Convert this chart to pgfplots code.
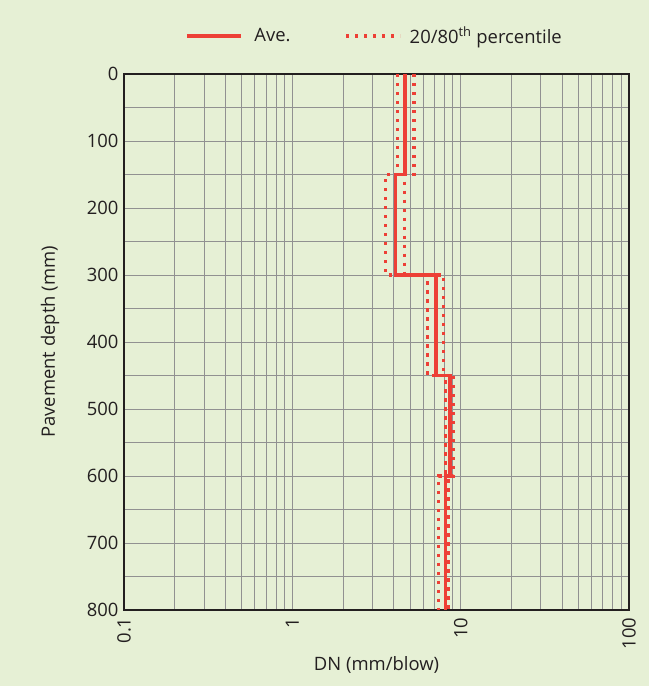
\documentclass[border=0pt]{standalone}
\usepackage{fontspec}
\setmainfont{Open Sans}
\usepackage{pgfplots}
\pgfplotsset{compat=1.18}
\definecolor{bg}{RGB}{230,240,213}
\definecolor{redl}{RGB}{237,64,54}
\definecolor{gridc}{RGB}{145,145,145}
\definecolor{axc}{RGB}{35,31,32}
\definecolor{txt}{RGB}{35,31,32}
\begin{document}
\begin{tikzpicture}[x=1bp,y=1bp]
\fill[bg] (0,0) rectangle (649,686);
\useasboundingbox (0,0) rectangle (649,686);
\begin{axis}[
  at={(124bp,76bp)}, anchor=south west,
  scale only axis, width=505bp, height=536bp,
  xmode=log, xmin=0.1, xmax=100,
  ymin=0, ymax=800, y dir=reverse,
  xtick={0.1,1,10,100}, xticklabels={0.1,1,10,100},
  ytick={0,100,...,800}, minor ytick={50,150,...,750},
  /pgf/number format/assume math mode=true,
  grid=both,
  major grid style={gridc, line width=1bp},
  minor grid style={gridc, line width=1bp},
  major tick length=0pt, minor tick length=0pt,
  axis line style={axc, line width=2.6bp},
  font=\fontsize{18.5}{22}\selectfont\color{txt},
  xticklabel style={rotate=90, anchor=east, xshift=-4bp, font=\fontsize{18.5}{22}\selectfont\color{txt}},
  yticklabel style={font=\fontsize{18.5}{22}\selectfont\color{txt}, xshift=-2bp},
  xlabel={DN (mm/blow)}, ylabel={Pavement depth (mm)},
  xlabel style={at={(axis description cs:0.5,0)}, anchor=center, yshift=-55bp},
  ylabel style={at={(axis description cs:0,0.5)}, anchor=center, yshift=74bp},
  legend columns=2,
  legend style={draw=none, fill=none, at={(0.496,1.071)}, anchor=center,
    font=\fontsize{18.5}{22}\selectfont\color{txt},
    /tikz/every even column/.append style={column sep=52bp}},
  legend image code/.code={\draw[#1] (0bp,0bp) -- (54bp,0bp);},
  clip=false,
]
\addplot[redl, line width=3.2bp] coordinates {
 (4.67,0) (4.67,150) (4.09,150) (4.09,300) (7.14,300) (7.14,450)
 (8.65,450) (8.65,600) (8.15,600) (8.15,800)};
\addlegendentry{\hspace{10bp}Ave.}
\addplot[redl, line width=3.2bp, dash pattern=on 3.2bp off 5.8bp] coordinates {
 (4.23,0) (4.23,150) (3.59,150) (3.59,300) (6.34,300) (6.34,450)
 (8.11,450) (8.11,600) (7.41,600) (7.41,800)};
\addlegendentry{\hspace{6bp}20/80\textsuperscript{th} percentile}
\addplot[redl, line width=3.2bp, dash pattern=on 3.2bp off 5.8bp, forget plot] coordinates {
 (5.28,0) (5.28,150) (4.65,150) (4.65,300) (7.89,300) (7.89,450)
 (9.05,450) (9.05,600) (8.50,600) (8.50,800)};
\end{axis}
\end{tikzpicture}
\end{document}
